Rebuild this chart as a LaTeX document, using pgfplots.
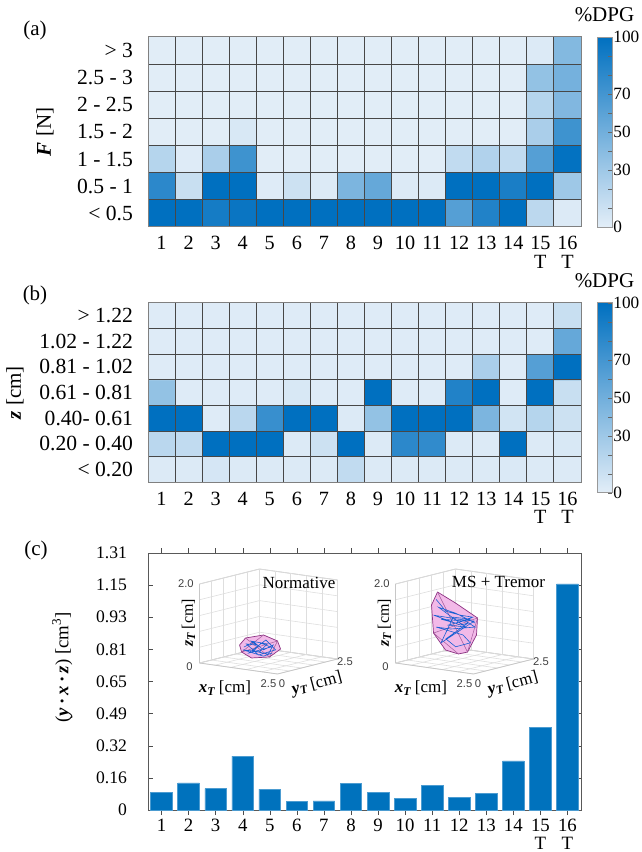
\documentclass[border=0pt]{standalone}
\usepackage{fontspec}
\setmainfont{Liberation Serif}
\newfontfamily\helv{Liberation Sans}
\usepackage{pgfplots}
\pgfplotsset{compat=1.18}
\definecolor{barblue}{RGB}{0,114,189}
\definecolor{hullpink}{RGB}{242,185,232}
\definecolor{hulledge}{RGB}{140,50,130}
\definecolor{trajblue}{RGB}{25,95,210}
\newcommand{\bi}[1]{\textbf{\textit{#1}}}
\newcommand{\xtickfont}{\fontsize{10.1}{9.3}\selectfont}
\newcommand{\ytickfont}{\fontsize{10.8}{12}\selectfont}
\newcommand{\labfont}{\fontsize{10.5}{12}\selectfont}
\pgfplotsset{
  /pgf/number format/assume math mode=true,
  heat/.style={
    scale only axis, width=216.5pt,
    xmin=0.5, xmax=16.5, ymin=0.5, ymax=7.5,
    xtick={1,...,16},
    xticklabels={1,2,3,4,5,6,7,8,9,10,11,12,13,14,{15\\T},{16\\T}},
    ytick={1,...,7},
    major tick length=0pt, minor tick length=0pt,
    minor xtick={1.5,2.5,...,15.5}, minor ytick={1.5,2.5,...,6.5},
    xminorgrids=true, yminorgrids=true,
    minor grid style={black!72, line width=0.45pt},
    axis on top,
    axis line style={black!50, line width=0.5pt},
    xticklabel style={font=\xtickfont, align=center, yshift=-1.2pt},
    yticklabel style={font=\ytickfont, xshift=-4pt},
    label style={font=\labfont},
    colormap={dpg}{rgb255=(227,238,248) rgb255=(0,112,192)},
    point meta min=0, point meta max=100,
  },
  cbar/.style={
    scale only axis, width=7.5pt, height=95pt,
    xmin=0, xmax=1, ymin=0, ymax=100,
    xtick=\empty,
    ytick={0,10,...,100},
    yticklabels={0,,,30,,50,,70,,,100},
    ytick pos=right, yticklabel pos=right,
    tick align=inside, major tick length=2pt,
    tick style={black!60},
    axis line style={black!40},
    axis on top,
    yticklabel style={font=\fontsize{8.6}{10}\selectfont, xshift=-2.8pt},
    title={\%DPG},
    every axis title shift=0pt,
    title style={font=\labfont, at={(0.5,1)}, anchor=center, yshift=11pt},
    colormap={dpg}{rgb255=(227,238,248) rgb255=(0,112,192)},
    point meta min=0, point meta max=100,
  },
}
\begin{document}
\begin{tikzpicture}
\useasboundingbox (0,0) rectangle (321pt,426pt);

% ---------------- (a) ----------------
\begin{axis}[heat, at={(74pt,312.5pt)}, anchor=south west, height=95pt,
  yticklabels={{< 0.5},{0.5 - 1},{1 - 1.5},{1.5 - 2},{2 - 2.5},{2.5 - 3},{> 3}},
  ylabel={\bi{F} [N]},
  ylabel style={at={(axis description cs:-0.238,0.5)}, anchor=center},
]
\addplot[matrix plot*, mesh/cols=16, point meta=explicit] table[meta=c]{
x y c
1 1 100
2 1 100
3 1 90
4 1 95
5 1 100
6 1 100
7 1 100
8 1 100
9 1 100
10 1 100
11 1 100
12 1 62
13 1 85
14 1 100
15 1 17
16 1 3
1 2 80
2 2 12
3 2 100
4 2 100
5 2 2
6 2 10
7 2 3
8 2 45
9 2 55
10 2 3
11 2 3
12 2 100
13 2 100
14 2 88
15 2 100
16 2 30
1 3 20
2 3 2
3 3 25
4 3 72
5 3 1
6 3 1
7 3 1
8 3 1
9 3 1
10 3 1
11 3 1
12 3 15
13 3 22
14 3 15
15 3 62
16 3 98
1 4 1
2 4 1
3 4 1
4 4 5
5 4 1
6 4 1
7 4 1
8 4 1
9 4 1
10 4 1
11 4 1
12 4 1
13 4 1
14 4 1
15 4 25
16 4 72
1 5 1
2 5 1
3 5 1
4 5 1
5 5 1
6 5 1
7 5 1
8 5 1
9 5 1
10 5 1
11 5 1
12 5 1
13 5 1
14 5 1
15 5 20
16 5 43
1 6 1
2 6 1
3 6 1
4 6 1
5 6 1
6 6 1
7 6 1
8 6 1
9 6 1
10 6 1
11 6 1
12 6 1
13 6 1
14 6 1
15 6 35
16 6 48
1 7 1
2 7 1
3 7 1
4 7 1
5 7 1
6 7 1
7 7 1
8 7 1
9 7 1
10 7 1
11 7 1
12 7 1
13 7 1
14 7 1
15 7 3
16 7 42
};
\end{axis}
\begin{axis}[cbar, at={(298.5pt,407.5pt)}, anchor=north west]
\addplot[patch, patch type=rectangle, shader=interp, point meta=explicit] table[meta=c]{
x y c
0 0 0
1 0 0
1 100 100
0 100 100
};
\end{axis}

% ---------------- (b) ----------------
\begin{axis}[heat, at={(74pt,184.8pt)}, anchor=south west, height=89.8pt,
  yticklabels={{< 0.20},{0.20 - 0.40},{0.40- 0.61},{0.61 - 0.81},{0.81 - 1.02},{1.02 - 1.22},{> 1.22}},
  ylabel={\bi{z} [cm]},
  ylabel style={at={(axis description cs:-0.307,0.5)}, anchor=center},
]
\addplot[matrix plot*, mesh/cols=16, point meta=explicit] table[meta=c]{
x y c
1 1 3
2 1 3
3 1 6
4 1 3
5 1 3
6 1 3
7 1 3
8 1 15
9 1 3
10 1 3
11 1 3
12 1 3
13 1 3
14 1 4
15 1 3
16 1 3
1 2 18
2 2 15
3 2 100
4 2 100
5 2 100
6 2 3
7 2 10
8 2 100
9 2 3
10 2 80
11 2 78
12 2 3
13 2 3
14 2 100
15 2 3
16 2 5
1 3 100
2 3 100
3 3 2
4 3 18
5 3 75
6 3 100
7 3 100
8 3 3
9 3 35
10 3 100
11 3 100
12 3 100
13 3 45
14 3 8
15 3 20
16 3 10
1 4 35
2 4 2
3 4 2
4 4 2
5 4 2
6 4 5
7 4 2
8 4 2
9 4 100
10 4 2
11 4 2
12 4 85
13 4 100
14 4 2
15 4 100
16 4 12
1 5 2
2 5 2
3 5 2
4 5 2
5 5 2
6 5 2
7 5 2
8 5 2
9 5 2
10 5 2
11 5 2
12 5 2
13 5 25
14 5 2
15 5 62
16 5 100
1 6 2
2 6 2
3 6 2
4 6 2
5 6 2
6 6 2
7 6 2
8 6 2
9 6 2
10 6 2
11 6 2
12 6 2
13 6 2
14 6 2
15 6 2
16 6 55
1 7 2
2 7 2
3 7 2
4 7 2
5 7 2
6 7 2
7 7 2
8 7 2
9 7 2
10 7 2
11 7 2
12 7 2
13 7 2
14 7 2
15 7 2
16 7 12
};
\end{axis}
\begin{axis}[cbar, at={(298.5pt,274.6pt)}, anchor=north west]
\addplot[patch, patch type=rectangle, shader=interp, point meta=explicit] table[meta=c]{
x y c
0 0 0
1 0 0
1 100 100
0 100 100
};
\end{axis}

% ---------------- (c) ----------------
\begin{axis}[at={(74pt,21pt)}, anchor=south west, scale only axis,
  width=216.5pt, height=128.5pt,
  xmin=0.5, xmax=16.5, ymin=0, ymax=1.31,
  xtick={1,...,16},
  xticklabels={1,2,3,4,5,6,7,8,9,10,11,12,13,14,{15\\T},{16\\T}},
  ytick={0,0.16375,0.3275,0.49125,0.655,0.81875,0.9825,1.14625,1.31},
  yticklabels={0,0.16,0.32,0.49,0.65,0.81,0.93,1.15,1.31},
  tick align=inside, major tick length=2.5pt,
  tick style={black!70},
  axis line style={black!65, line width=0.5pt},
  xticklabel style={font=\fontsize{9.4}{8.8}\selectfont, align=center, yshift=1.4pt},
  yticklabel style={font=\fontsize{8.8}{10}\selectfont, xshift=-7pt},
  label style={font=\fontsize{9.4}{11}\selectfont},
  ylabel={(\bi{y}\,\textbf{·}\,\bi{x}\,\textbf{·}\,\bi{z}) [cm\textsuperscript{3}]},
  ylabel style={at={(axis description cs:-0.198,0.556)}, anchor=center},
  ybar, bar width=0.8,
]
\addplot[ybar, bar width=0.8, fill=barblue, draw=barblue!70!white, line width=0.3pt] coordinates {
(1,0.090) (2,0.138) (3,0.109) (4,0.275) (5,0.107) (6,0.042) (7,0.046) (8,0.136)
(9,0.090) (10,0.058) (11,0.124) (12,0.066) (13,0.085) (14,0.250) (15,0.423) (16,1.152)
};
\end{axis}

% ---------------- insets ----------------
\pgfplotsset{inset/.style={
  anchor=origin,
  x={(15.6pt,-2.2pt)}, y={(12pt,3pt)}, z={(0pt,19.75pt)},
  xmin=0, xmax=2.5, ymin=0, ymax=2.5, zmin=0, zmax=2,
  xtick={0,0.5,...,2.5}, ytick={0,0.5,...,2.5}, ztick={0,0.4,...,2.0},
  xticklabels={}, yticklabels={}, zticklabels={},
  major tick length=0pt,
  grid=major, major grid style={black!13, line width=0.3pt},
  axis line style={black!22, line width=0.4pt},
  clip=false,
}}
\begin{axis}[inset, at={(99.75pt,94.5pt)}]
\addplot3[fill=hullpink, draw=hulledge, line width=0.35pt, mark=none] coordinates {
(0.811,0.615,0.453) (0.934,0.705,0.630) (1.302,0.975,0.706) (1.589,1.185,0.554)
(1.651,1.231,0.351) (1.425,1.065,0.149) (1.057,0.795,0.124) (0.852,0.645,0.275)
(0.811,0.615,0.453)
};
\addplot3[hulledge!80, line width=0.25pt, mark=none] coordinates {
(0.934,0.705,0.630) (1.425,1.065,0.149) (1.589,1.185,0.554) (0.852,0.645,0.275) (1.302,0.975,0.706)
};
\addplot3[trajblue, line width=0.3pt, mark=none] coordinates {
(0.90,0.680,0.40) (1.10,0.827,0.53) (1.30,0.973,0.33) (1.50,1.120,0.45) (1.40,1.047,0.22)
(1.10,0.827,0.30) (1.25,0.937,0.50) (1.45,1.083,0.40) (1.00,0.753,0.25) (1.35,1.010,0.58)
(1.55,1.157,0.33) (1.20,0.900,0.20) (0.95,0.717,0.48) (1.15,0.863,0.45) (1.05,0.790,0.55)
(1.38,1.032,0.48) (1.22,0.915,0.28) (0.88,0.665,0.33) (1.30,0.973,0.17) (1.48,1.105,0.25)
};
\end{axis}
\begin{axis}[inset, at={(197.75pt,94.5pt)}]
\addplot3[fill=hullpink, draw=hulledge, line width=0.35pt, mark=none] coordinates {
(0.828,0.674,1.787) (1.197,0.944,1.509) (1.648,1.275,1.129) (1.627,1.260,0.699)
(1.443,1.125,0.268) (1.258,0.989,0.218) (0.992,0.794,0.319) (0.746,0.614,0.749)
(0.705,0.584,1.458) (0.828,0.674,1.787)
};
\addplot3[hulledge!80, line width=0.25pt, mark=none] coordinates {
(0.828,0.674,1.787) (1.443,1.125,0.268) (1.648,1.275,1.129) (0.746,0.614,0.749) (1.258,0.989,0.218)
};
\addplot3[trajblue, line width=0.3pt, mark=none] coordinates {
(0.80,0.653,1.60) (1.00,0.800,1.30) (1.30,1.020,1.20) (1.55,1.203,1.15) (1.20,0.947,1.00)
(0.90,0.727,1.10) (1.40,1.093,1.05) (1.60,1.240,0.90) (1.10,0.873,0.85) (0.80,0.653,0.90)
(1.35,1.057,0.70) (1.50,1.167,0.50) (1.20,0.947,0.40) (1.00,0.800,0.60) (1.45,1.130,1.00)
(1.30,1.020,0.95) (0.75,0.617,1.20) (1.25,0.983,1.10) (1.58,1.225,1.05) (0.90,0.727,0.50)
(1.15,0.910,1.15) (1.50,1.167,1.10) (1.05,0.837,0.95) (1.40,1.093,0.90) (0.85,0.690,1.40)
(1.20,0.947,1.25) (1.60,1.240,1.00)
};
\end{axis}

% inset texts
\begin{scope}[every node/.style={inner sep=0pt}]
\foreach \dx in {0pt,98pt}{
  \begin{scope}[xshift=\dx]
  \node[anchor=east, font=\helv\fontsize{5.6}{6}\selectfont, text=black!75] at (97pt,134pt) {2.0};
  \node[anchor=east, font=\helv\fontsize{5.6}{6}\selectfont, text=black!75] at (96.5pt,92.5pt) {0};
  \node[font=\helv\fontsize{5.6}{6}\selectfont, text=black!75] at (134.25pt,84pt) {2.5};
  \node[font=\helv\fontsize{5.6}{6}\selectfont, text=black!75] at (141pt,84pt) {0};
  \node[font=\helv\fontsize{5.6}{6}\selectfont, text=black!75] at (172.5pt,95pt) {2.5};
  \node[font=\fontsize{8.5}{10}\selectfont] at (112.5pt,82pt) {\bi{x}\textsubscript{\bi{T}}\,[cm]};
  \node[font=\fontsize{8.5}{10}\selectfont, rotate=15] at (158.5pt,84pt) {\bi{y}\textsubscript{\bi{T}}\,[cm]};
  \node[font=\fontsize{8}{10}\selectfont, rotate=90] at (94.25pt,114.5pt) {\bi{z}\textsubscript{\bi{T}}\,[cm]};
  \end{scope}
}
\node[font=\fontsize{8.5}{10}\selectfont] at (149.5pt,134.5pt) {Normative};
\node[font=\fontsize{8.5}{10}\selectfont] at (249.25pt,135pt) {MS + Tremor};
\end{scope}

% panel letters
\node[font=\labfont] at (17.5pt,411pt) {(a)};
\node[font=\labfont] at (17.5pt,278.5pt) {(b)};
\node[font=\labfont] at (18pt,151pt) {(c)};
\end{tikzpicture}
\end{document}
